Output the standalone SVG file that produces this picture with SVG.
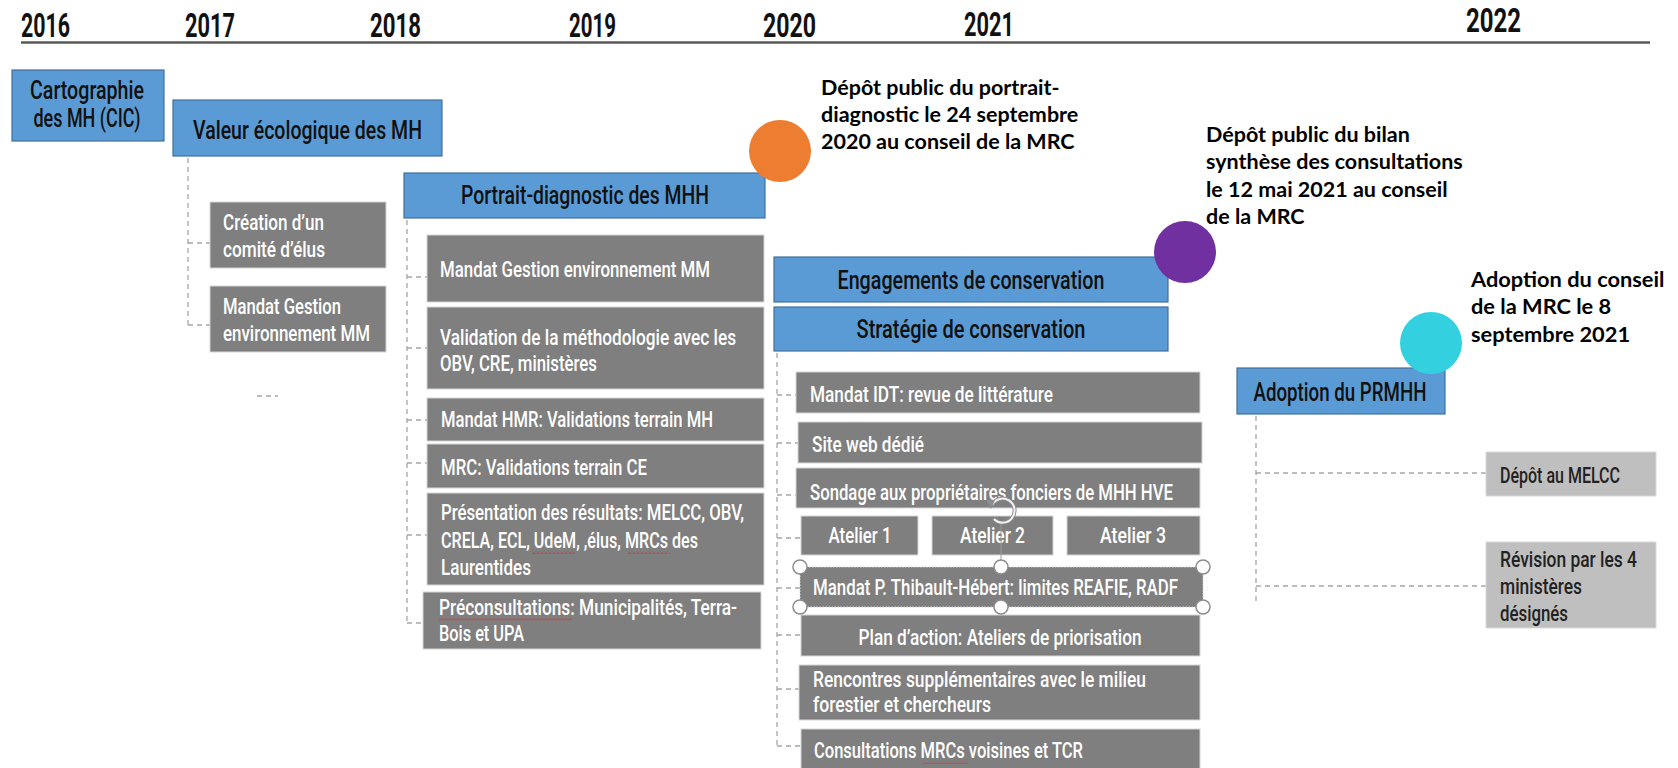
<svg xmlns="http://www.w3.org/2000/svg" width="1678" height="768" viewBox="0 0 1678 768">
  <style>
    .yr { font-family: Roboto, "Liberation Sans", sans-serif; font-weight: 700; font-size: 34px; fill: #111; }
    .bt { font-family: Roboto, "Liberation Sans", sans-serif; font-weight: 500; font-size: 25px; fill: #111; text-anchor: middle; }
    .gt { font-family: Roboto, "Liberation Sans", sans-serif; font-weight: 500; font-size: 22px; fill: #fff; }
    .gc { text-anchor: middle; }
    .dt { fill: #222; }
    .note { font-family: Lato, "Liberation Sans", sans-serif; font-weight: 700; font-size: 21.5px; fill: #000; }
    .blue { fill: #5B9BD5; stroke: #41719C; stroke-width: 1.2; }
    .gray { fill: #7F7F7F; stroke: #D6D6D6; stroke-width: 1; }
    .lgray { fill: #BFBFBF; stroke: #D9D9D9; stroke-width: 1; }
    .conn { fill: none; stroke: #A6A6A6; stroke-width: 1.3; stroke-dasharray: 5 4; }
    .handle { fill: #fff; stroke: #8C8C8C; stroke-width: 1.5; }
  </style>
  <defs>
    <pattern id="squiggle" patternUnits="userSpaceOnUse" width="4" height="3">
      <path d="M0 2.5 L2 0.5 L4 2.5" fill="none" stroke="#D93030" stroke-width="0.9"/>
    </pattern>
  </defs>

  <!-- time axis -->
  <g id="axis">
    <line x1="21" y1="42.5" x2="1650" y2="42.5" stroke="#595959" stroke-width="2.5"/>
    <text class="yr" x="21" y="37" textLength="49" lengthAdjust="spacingAndGlyphs">2016</text>
    <text class="yr" x="185" y="37" textLength="50" lengthAdjust="spacingAndGlyphs">2017</text>
    <text class="yr" x="370" y="37" textLength="51" lengthAdjust="spacingAndGlyphs">2018</text>
    <text class="yr" x="569" y="37" textLength="47" lengthAdjust="spacingAndGlyphs">2019</text>
    <text class="yr" x="763" y="37" textLength="53" lengthAdjust="spacingAndGlyphs">2020</text>
    <text class="yr" x="964" y="36" textLength="50" lengthAdjust="spacingAndGlyphs">2021</text>
    <text class="yr" x="1466" y="32" textLength="55" lengthAdjust="spacingAndGlyphs">2022</text>
  </g>

  <!-- dashed tree connectors -->
  <g id="connectors" class="conn">
    <path d="M188 158 V325 M188 243 H210 M188 325 H210"/>
    <path d="M212 266 H232 M212 350 H232 M257 396 H278"/>
    <path d="M407 220 V623 M407 277 H427 M407 348 H427 M407 420 H427 M407 463 H427 M407 535 H427 M407 623 H423"/>
    <path d="M777 353 V747 M777 395 H796 M777 443 H798 M777 495 H796 M777 538 H801 M777 588 H800 M777 635 H801 M777 689 H799 M777 746 H801"/>
    <path d="M1256 416 V605 M1256 473 H1486 M1256 586 H1486"/>
  </g>

  <!-- main phases -->
  <g id="cartographie">
    <rect class="blue" x="12" y="70" width="152" height="71"/>
    <text class="bt" x="87" y="99" textLength="114" lengthAdjust="spacingAndGlyphs">Cartographie</text>
    <text class="bt" x="87" y="127" textLength="107" lengthAdjust="spacingAndGlyphs">des MH (CIC)</text>
  </g>
  <g id="valeur">
    <rect class="blue" x="173" y="100" width="269" height="56"/>
    <text class="bt" x="307.5" y="139" textLength="229" lengthAdjust="spacingAndGlyphs">Valeur écologique des MH</text>
  </g>
  <g id="portrait">
    <rect class="blue" x="404" y="173" width="361" height="45"/>
    <text class="bt" x="585" y="204" textLength="248" lengthAdjust="spacingAndGlyphs">Portrait-diagnostic des MHH</text>
  </g>
  <g id="engagements">
    <rect class="blue" x="774" y="257" width="394" height="45"/>
    <text class="bt" x="971" y="289" textLength="267" lengthAdjust="spacingAndGlyphs">Engagements de conservation</text>
  </g>
  <g id="strategie">
    <rect class="blue" x="774" y="307" width="394" height="44"/>
    <text class="bt" x="971" y="338" textLength="229" lengthAdjust="spacingAndGlyphs">Stratégie de conservation</text>
  </g>
  <g id="adoption">
    <rect class="blue" x="1237" y="368" width="208" height="46"/>
    <text class="bt" x="1340" y="401" textLength="173" lengthAdjust="spacingAndGlyphs">Adoption du PRMHH</text>
  </g>

  <!-- 2017 tasks -->
  <g id="comite">
    <rect class="gray" x="210" y="202" width="176" height="66"/>
    <text class="gt" x="223" y="230" textLength="101" lengthAdjust="spacingAndGlyphs">Création d’un</text>
    <text class="gt" x="223" y="257" textLength="102" lengthAdjust="spacingAndGlyphs">comité d’élus</text>
  </g>
  <g id="mandat-gestion-1">
    <rect class="gray" x="210" y="286" width="176" height="66"/>
    <text class="gt" x="223" y="314" textLength="118" lengthAdjust="spacingAndGlyphs">Mandat Gestion</text>
    <text class="gt" x="223" y="341" textLength="147" lengthAdjust="spacingAndGlyphs">environnement MM</text>
  </g>

  <!-- portrait-diagnostic tasks -->
  <g id="mandat-gestion-2">
    <rect class="gray" x="427" y="235" width="337" height="67"/>
    <text class="gt" x="440" y="277" textLength="270" lengthAdjust="spacingAndGlyphs">Mandat Gestion environnement MM</text>
  </g>
  <g id="validation-methodo">
    <rect class="gray" x="427" y="307" width="337" height="82"/>
    <text class="gt" x="440" y="345" textLength="296" lengthAdjust="spacingAndGlyphs">Validation de la méthodologie avec les</text>
    <text class="gt" x="440" y="371" textLength="157" lengthAdjust="spacingAndGlyphs">OBV, CRE, ministères</text>
  </g>
  <g id="mandat-hmr">
    <rect class="gray" x="427" y="398" width="337" height="43"/>
    <text class="gt" x="441" y="427" textLength="272" lengthAdjust="spacingAndGlyphs">Mandat HMR: Validations terrain MH</text>
  </g>
  <g id="mrc-terrain">
    <rect class="gray" x="427" y="444" width="337" height="44"/>
    <text class="gt" x="441" y="475" textLength="206" lengthAdjust="spacingAndGlyphs">MRC: Validations terrain CE</text>
  </g>
  <g id="presentation">
    <rect class="gray" x="427" y="493" width="337" height="92"/>
    <text class="gt" x="441" y="520" textLength="303" lengthAdjust="spacingAndGlyphs">Présentation des résultats: MELCC, OBV,</text>
    <text class="gt" x="441" y="548" textLength="257" lengthAdjust="spacingAndGlyphs">CRELA, ECL, UdeM, ,élus, MRCs des</text>
    <text class="gt" x="441" y="575" textLength="90" lengthAdjust="spacingAndGlyphs">Laurentides</text>
    <rect x="532" y="551" width="43" height="3" fill="url(#squiggle)"/>
    <rect x="627" y="551" width="43" height="3" fill="url(#squiggle)"/>
  </g>
  <g id="preconsultations">
    <rect class="gray" x="423" y="592" width="338" height="57"/>
    <text class="gt" x="439" y="615" textLength="298" lengthAdjust="spacingAndGlyphs">Préconsultations: Municipalités, Terra-</text>
    <text class="gt" x="439" y="641" textLength="85" lengthAdjust="spacingAndGlyphs">Bois et UPA</text>
    <rect x="439" y="618" width="133" height="3" fill="url(#squiggle)"/>
  </g>

  <!-- strategy tasks -->
  <g id="mandat-idt">
    <rect class="gray" x="796" y="372" width="404" height="41"/>
    <text class="gt" x="810" y="402" textLength="243" lengthAdjust="spacingAndGlyphs">Mandat IDT: revue de littérature</text>
  </g>
  <g id="site-web">
    <rect class="gray" x="798" y="422" width="404" height="41"/>
    <text class="gt" x="812" y="452" textLength="112" lengthAdjust="spacingAndGlyphs">Site web dédié</text>
  </g>
  <g id="sondage">
    <rect class="gray" x="796" y="468" width="404" height="40"/>
    <text class="gt" x="810" y="500" textLength="363" lengthAdjust="spacingAndGlyphs">Sondage aux propriétaires fonciers de MHH HVE</text>
  </g>
  <g id="atelier-1">
    <rect class="gray" x="801" y="516" width="117" height="39"/>
    <text class="gt gc" x="860" y="543" textLength="63" lengthAdjust="spacingAndGlyphs">Atelier 1</text>
  </g>
  <g id="atelier-2">
    <rect class="gray" x="932" y="516" width="121" height="39"/>
    <text class="gt gc" x="992.5" y="543" textLength="65" lengthAdjust="spacingAndGlyphs">Atelier 2</text>
  </g>
  <g id="atelier-3">
    <rect class="gray" x="1067" y="516" width="133" height="39"/>
    <text class="gt gc" x="1133" y="543" textLength="66" lengthAdjust="spacingAndGlyphs">Atelier 3</text>
  </g>
  <g id="mandat-thibault">
    <rect class="gray" x="800" y="567" width="403" height="40" stroke="#EDEDED" stroke-width="1.5" stroke-dasharray="1.5 1.5"/>
    <text class="gt" x="813" y="595" textLength="365" lengthAdjust="spacingAndGlyphs">Mandat P. Thibault-Hébert: limites REAFIE, RADF</text>
  </g>
  <g id="plan-action">
    <rect class="gray" x="801" y="615" width="399" height="41"/>
    <text class="gt gc" x="1000" y="645" textLength="283" lengthAdjust="spacingAndGlyphs">Plan d’action: Ateliers de priorisation</text>
  </g>
  <g id="rencontres">
    <rect class="gray" x="799" y="665" width="401" height="55"/>
    <text class="gt" x="813" y="687" textLength="333" lengthAdjust="spacingAndGlyphs">Rencontres supplémentaires avec le milieu</text>
    <text class="gt" x="813" y="712" textLength="178" lengthAdjust="spacingAndGlyphs">forestier et chercheurs</text>
  </g>
  <g id="consultations">
    <rect class="gray" x="801" y="729" width="399" height="45"/>
    <text class="gt" x="814" y="758" textLength="269" lengthAdjust="spacingAndGlyphs">Consultations MRCs voisines et TCR</text>
    <rect x="923" y="761" width="45" height="3" fill="url(#squiggle)"/>
  </g>

  <!-- selection handles on the Thibault-Hébert box -->
  <g id="selection">
    <line x1="1001" y1="524" x2="1001" y2="561" stroke="#9A9A9A" stroke-width="1"/>
    <path d="M992 505 A12 12 0 1 1 994 519" fill="none" stroke="#8C8C8C" stroke-width="4"/>
    <path d="M992 505 A12 12 0 1 1 994 519" fill="none" stroke="#F2F2F2" stroke-width="2"/>
    <path d="M986 500 L995 500 L991 509 Z" fill="#8C8C8C"/>
    <circle class="handle" cx="800" cy="567" r="7"/>
    <circle class="handle" cx="1001" cy="567" r="7"/>
    <circle class="handle" cx="1203" cy="567" r="7"/>
    <circle class="handle" cx="800" cy="607" r="7"/>
    <circle class="handle" cx="1001" cy="607" r="7"/>
    <circle class="handle" cx="1203" cy="607" r="7"/>
  </g>

  <!-- adoption follow-up -->
  <g id="depot-melcc">
    <rect class="lgray" x="1486" y="452" width="170" height="44"/>
    <text class="gt dt" x="1500" y="483" textLength="120" lengthAdjust="spacingAndGlyphs">Dépôt au MELCC</text>
  </g>
  <g id="revision">
    <rect class="lgray" x="1486" y="542" width="170" height="86"/>
    <text class="gt dt" x="1500" y="567" textLength="137" lengthAdjust="spacingAndGlyphs">Révision par les 4</text>
    <text class="gt dt" x="1500" y="594" textLength="82" lengthAdjust="spacingAndGlyphs">ministères</text>
    <text class="gt dt" x="1500" y="621" textLength="68" lengthAdjust="spacingAndGlyphs">désignés</text>
  </g>

  <!-- milestones -->
  <g id="jalon-portrait">
    <circle cx="780" cy="151" r="31" fill="#ED7D31"/>
    <text class="note"><tspan x="821" y="95">Dépôt public du portrait-</tspan><tspan x="821" y="122">diagnostic le 24 septembre</tspan><tspan x="821" y="149">2020 au conseil de la MRC</tspan></text>
  </g>
  <g id="jalon-bilan">
    <circle cx="1185" cy="252" r="31" fill="#7030A0"/>
    <text class="note"><tspan x="1206" y="142">Dépôt public du bilan</tspan><tspan x="1206" y="169">synthèse des consultations</tspan><tspan x="1206" y="197">le 12 mai 2021 au conseil</tspan><tspan x="1206" y="224">de la MRC</tspan></text>
  </g>
  <g id="jalon-adoption">
    <circle cx="1431" cy="343" r="31" fill="#33D1E0"/>
    <text class="note" style="font-size:21.8px"><tspan x="1471" y="287">Adoption du conseil</tspan><tspan x="1471" y="314">de la MRC le 8</tspan><tspan x="1471" y="342">septembre 2021</tspan></text>
  </g>
</svg>
